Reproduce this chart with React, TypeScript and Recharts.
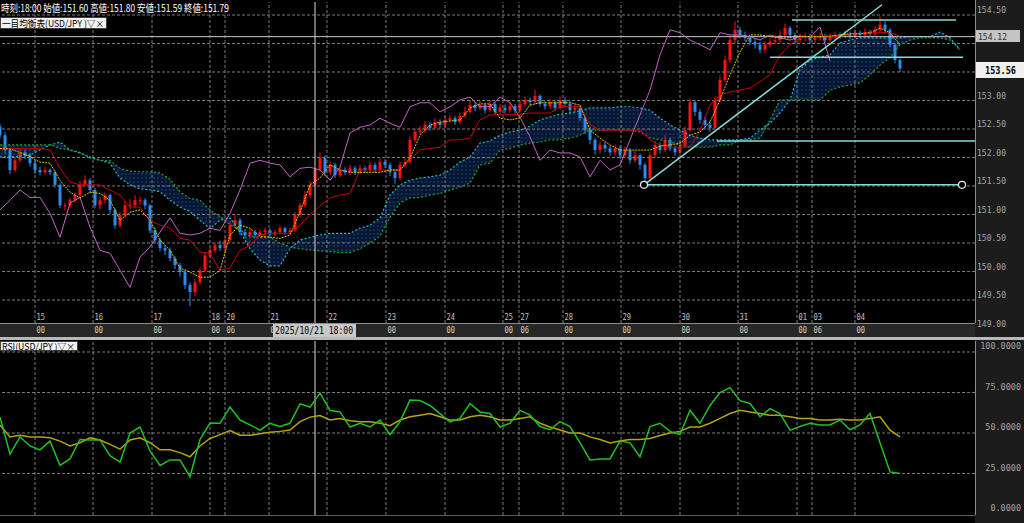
import React from 'react';
import { ComposedChart, XAxis, YAxis, Bar, Line, Area, ReferenceLine, ReferenceDot } from 'recharts';

// ---- price candles (2-hour slots) ----
const FIRST_OPEN = 152.54;
const closes = [
  152.39,152.13,151.78,151.95,152.09,152.04,151.90,151.78,151.74,151.78,
  151.74,151.52,151.16,151.16,151.25,151.34,151.52,151.60,151.43,151.16,
  151.25,151.34,151.08,150.81,150.99,151.16,151.16,151.25,151.25,151.16,
  150.72,150.55,150.41,150.37,150.23,150.11,149.99,149.76,149.64,149.81,
  150.02,150.28,150.37,150.46,150.41,150.55,150.81,150.90,150.69,150.64,
  150.69,150.64,150.69,150.72,150.65,150.69,150.76,150.69,150.72,150.99,
  151.16,151.34,151.52,151.79,151.99,151.74,151.87,151.69,151.78,151.74,
  151.81,151.74,151.81,151.78,151.87,151.78,151.92,151.87,151.74,151.64,
  151.87,151.92,152.31,152.45,152.48,152.57,152.52,152.62,152.57,152.66,
  152.69,152.62,152.73,152.80,152.92,152.87,152.92,152.83,152.94,152.80,
  152.87,152.83,152.90,152.83,152.94,153.01,152.97,153.08,152.94,152.90,
  152.97,152.87,153.01,152.94,152.83,152.87,152.69,152.48,152.31,152.13,
  152.22,152.16,152.09,152.16,152.04,152.13,151.95,152.04,151.87,151.64,
  152.04,152.22,152.13,152.31,152.16,152.09,152.22,152.48,152.97,152.80,
  152.66,152.57,152.52,153.01,153.36,153.71,154.06,154.24,154.15,154.10,
  154.03,153.98,153.89,153.98,154.03,154.06,154.15,154.27,154.15,154.06,
  154.10,154.13,154.06,154.10,154.13,154.06,154.12,154.15,154.13,154.17,
  154.13,154.19,154.15,154.20,154.17,154.24,154.33,154.24,153.98,153.71,
  153.56,
];
const highs = [
  152.59,152.44,152.17,152.01,152.15,152.14,152.08,151.95,151.84,151.83,
  151.81,151.77,151.55,151.21,151.29,151.39,151.59,151.69,151.64,151.47,
  151.31,151.39,151.37,151.11,151.04,151.24,151.27,151.34,151.31,151.29,
  151.19,150.77,150.59,150.47,150.42,150.27,150.15,150.03,149.81,149.87,
  150.07,150.34,150.42,150.51,150.54,150.61,150.87,150.99,150.94,150.75,
  150.75,150.73,150.74,150.77,150.76,150.73,150.81,150.79,150.77,151.04,
  151.21,151.41,151.59,151.80,152.09,152.04,151.93,151.91,151.84,151.83,
  151.87,151.85,151.87,151.85,151.93,151.91,151.99,151.97,151.91,151.79,
  151.93,151.99,152.37,152.51,152.55,152.64,152.62,152.69,152.67,152.73,
  152.75,152.73,152.79,152.89,153.01,152.97,152.99,152.95,153.01,152.97,
  152.94,152.93,152.97,152.94,153.01,153.07,153.05,153.19,153.11,152.99,
  153.03,153.01,153.07,153.05,152.99,152.93,152.91,152.73,152.53,152.35,
  152.29,152.27,152.21,152.23,152.21,152.19,152.17,152.11,152.07,151.91,
  152.09,152.29,152.27,152.39,152.35,152.21,152.29,152.55,153.04,153.01,
  152.85,152.71,152.64,153.07,153.44,153.79,154.14,154.39,154.29,154.21,
  154.14,154.09,154.03,154.04,154.09,154.14,154.23,154.35,154.31,154.19,
  154.17,154.19,154.17,154.16,154.19,154.17,154.18,154.21,154.19,154.23,
  154.21,154.25,154.23,154.26,154.24,154.31,154.47,154.39,154.27,154.01,
  153.75,
];
const lows = [
  152.34,152.07,151.71,151.74,151.91,151.97,151.84,151.71,151.69,151.70,
  151.69,151.47,151.11,151.07,151.12,151.21,151.31,151.49,151.37,151.11,
  151.09,151.19,151.01,150.75,150.77,150.95,151.09,151.12,151.17,151.09,
  150.67,150.49,150.35,150.29,150.17,150.04,149.91,149.69,149.39,149.57,
  149.77,149.99,150.23,150.33,150.36,150.37,150.51,150.77,150.64,150.59,
  150.59,150.59,150.61,150.64,150.61,150.61,150.65,150.64,150.65,150.69,
  150.95,151.11,151.29,151.49,151.75,151.67,151.69,151.64,151.65,151.69,
  151.69,151.69,151.71,151.73,151.74,151.73,151.75,151.81,151.67,151.54,
  151.61,151.83,151.89,152.27,152.39,152.43,152.47,152.49,152.51,152.53,
  152.61,152.57,152.59,152.69,152.77,152.81,152.83,152.77,152.79,152.75,
  152.75,152.77,152.79,152.77,152.79,152.89,152.91,152.93,152.89,152.84,
  152.85,152.81,152.83,152.89,152.77,152.79,152.64,152.41,152.23,152.05,
  152.07,152.09,152.03,152.04,151.97,151.99,151.89,151.91,151.79,151.51,
  151.59,151.99,152.07,152.09,152.11,152.03,152.05,152.19,152.44,152.73,
  152.59,152.49,152.45,152.49,152.97,153.31,153.67,154.01,154.09,154.04,
  153.97,153.91,153.83,153.84,153.93,153.99,154.01,154.11,154.09,153.99,
  154.01,154.04,153.99,154.01,154.05,154.01,154.02,154.07,154.08,154.09,
  154.08,154.09,154.10,154.11,154.12,154.13,154.19,154.17,153.93,153.65,
  153.50,
];

// ---- Ichimoku lines, one sample every LINE_STEP slots ----
const LINE_STEP = 2;
const tenkan = [
  152.16,152.15,152.09,152.01,151.92,151.90,151.60,151.39,151.29,151.39,
  151.37,151.25,150.90,151.04,151.08,150.90,150.55,150.37,150.06,149.99,
  149.90,149.90,150.02,150.64,150.81,150.76,150.62,150.60,150.58,150.64,
  151.04,151.52,151.64,151.87,151.78,151.74,151.74,151.74,151.74,151.78,
  151.78,151.99,152.39,152.57,152.62,152.64,152.66,152.87,152.94,152.94,
  152.69,152.66,152.69,152.92,152.96,152.96,152.96,152.96,152.92,152.48,
  152.34,152.22,152.13,152.13,152.13,152.13,152.20,152.22,152.25,152.39,
  152.45,152.62,153.01,153.45,153.85,154.15,154.15,154.12,154.10,154.10,
  154.13,154.12,154.12,154.13,154.15,154.17,154.17,154.19,154.27,154.19,
  153.98,
];
const kijun = [
  152.16,152.16,152.16,152.16,152.16,152.13,151.81,151.57,151.52,151.52,
  151.52,151.43,151.34,151.13,151.13,150.90,150.81,150.76,150.58,150.55,
  150.34,150.32,150.02,150.06,150.37,150.46,150.64,150.67,150.67,150.67,
  150.81,151.00,151.15,151.29,151.34,151.37,151.78,151.78,151.78,151.78,
  151.78,151.95,152.13,152.16,152.18,152.31,152.31,152.34,152.66,152.75,
  152.75,152.75,152.76,152.78,152.78,152.78,152.89,152.89,152.89,152.57,
  152.48,152.48,152.48,152.48,152.48,152.31,152.22,152.18,152.18,152.18,
  152.48,152.92,153.10,153.15,153.18,153.22,153.33,153.45,153.80,153.98,
  154.10,154.12,154.12,154.12,154.12,154.17,154.17,154.19,154.19,154.19,
  154.13,
];
const chikou = [
  151.08,151.25,151.43,151.30,151.30,151.02,150.60,151.20,151.30,150.78,
  150.37,150.32,150.02,149.72,150.25,150.43,150.69,150.94,150.67,150.64,
  150.67,150.76,150.72,151.02,151.43,151.90,151.95,151.90,151.87,151.66,
  151.81,151.83,151.78,151.60,151.83,152.43,152.53,152.57,152.69,152.60,
  152.53,152.89,152.96,152.96,152.80,152.89,153.01,153.06,152.89,152.89,
  153.06,152.96,152.71,152.36,151.95,152.13,152.08,152.08,152.01,151.66,
  151.95,151.78,151.87,152.31,152.75,153.18,153.80,154.24,154.19,154.06,
  153.98,153.89,154.19,154.15,154.15,154.12,154.06,154.15,154.10,154.06,
  154.12,154.12,154.29,153.69,
];
const spanA = [
  152.01,152.01,152.02,152.04,152.13,152.22,152.27,152.13,152.08,152.01,
  151.95,151.90,151.64,151.52,151.45,151.43,151.40,151.25,151.13,151.05,
  150.90,150.75,150.90,150.94,150.70,150.40,150.20,150.10,150.10,150.40,
  150.55,150.60,150.64,150.67,150.67,150.67,150.76,150.81,150.94,151.34,
  151.52,151.60,151.64,151.66,151.69,151.78,151.92,152.01,152.25,152.29,
  152.39,152.45,152.48,152.55,152.66,152.71,152.76,152.78,152.82,152.87,
  152.87,152.87,152.89,152.89,152.87,152.83,152.69,152.57,152.48,152.39,
  152.34,152.31,152.31,152.31,152.31,152.34,152.48,152.60,152.78,153.01,
  153.54,153.71,153.76,153.80,154.01,154.06,154.10,154.10,154.10,154.10,
  154.10,154.12,154.12,154.12,154.20,154.10,153.89,
];
const spanB = [
  152.22,152.22,152.22,152.22,152.22,152.22,152.16,152.13,152.09,151.99,
  151.95,151.95,151.81,151.76,151.75,151.75,151.73,151.62,151.40,151.28,
  151.25,151.08,150.96,150.82,150.73,150.62,150.60,150.60,150.50,150.43,
  150.40,150.38,150.36,150.35,150.33,150.33,150.40,150.50,150.62,150.95,
  151.20,151.29,151.30,151.34,151.37,151.43,151.48,151.55,151.87,151.90,
  152.13,152.16,152.22,152.25,152.27,152.31,152.31,152.34,152.39,152.48,
  152.48,152.48,152.48,152.48,152.45,152.34,152.31,152.27,152.22,152.18,
  152.18,152.18,152.22,152.22,152.31,152.31,152.34,152.66,153.01,153.01,
  153.01,153.01,153.01,153.18,153.24,153.27,153.31,153.45,153.62,153.75,
  153.98,154.06,154.10,154.10,154.10,154.06,153.89,
];

// ---- RSI and its average ----
const rsi = [
  59.8,37,47.6,42,39.6,45,30,34,46,45.7,
  45.7,36,32,50,53.7,39,30,33.4,33.4,23,
  46,56.1,56,66,58,55,51.8,56,54,56,
  68,66,74.6,64,63,53.7,56,53.7,58,49,
  57,70.3,70,67,62,56.8,59,68.2,63,62,
  53.7,56,64,61,54,52,57,54,44,33.4,
  34,34,45,43.9,35.3,54,56,51,49,64,
  56,67,75,78,70,68.2,60,65,62,51.8,
  54,56,55,55,58,52,55,62,44,26,
  25,
];
const rsiMa = [
  54.9,47.6,48.6,47.6,47.6,47,45,42,44,47,
  45.7,43,40,45.7,47,44,39.6,39.6,37.9,35.3,
  42,46.6,49,51.5,48.6,48.6,49.5,50.5,51,51.8,
  57,59.8,60.8,58,59,57.5,57,57,56,54.5,
  58,60,61,62,60,58,58,60,61,60,
  58,58,59,60,56,53.7,51.8,50,50,47.6,
  46,43.9,45,46,46,46.6,48.5,50,51,53.7,
  53.7,56,59,62,64,63,62,61,61,60,
  59,59,58,58,58.5,58,58,59,60,51.8,
  47.6,
];

// ---- axes ----
const dayTicks = [7, 18.6, 30.4, 42, 45, 53.8, 65.4, 77.2, 89, 100.6, 103.8, 112.6, 124.2, 136, 147.6, 159.4, 162.4, 171];
const dayLabels = ['15','16','17','18','20','21','22','23','24','25','27','28','29','30','31','01','03','04'];
const hourLabels = ['00','00','00','00','06','00','','00','00','00','06','00','00','00','00','00','06','00'];
const priceTicks = [149, 149.5, 150, 150.5, 151, 151.5, 152, 152.5, 153, 153.5, 154, 154.5];
const coveredPriceLabels = [153.5, 154];
const rsiTicks = [0, 25, 50, 75, 100];
const rsiGrid = [25, 50, 75, 100];
const CROSSHAIR_T = 63;
const LAST_LINE = 154.12;
const CURRENT_PRICE = 153.56;

// ---- drawing objects (data coordinates) ----
const hLines = [
  { x1: 158.4, x2: 191.2, y: 154.41 },
  { x1: 154, x2: 192.6, y: 153.76 },
  { x1: 143.4, x2: 195, y: 152.29 },
  { x1: 128.8, x2: 192.4, y: 151.52 },
];
const trendLine = [{ x: 128.8, y: 151.52 }, { x: 176.4, y: 154.68 }];
const anchorDots = [{ x: 128.8, y: 151.52 }, { x: 192.4, y: 151.52 }];

const candleRows = closes.map((close, i) => ({
  i,
  open: i === 0 ? FIRST_OPEN : closes[i - 1],
  close,
  high: highs[i],
  low: lows[i],
  range: [lows[i], highs[i]],
}));
const cloudRows = spanA.map((a, k) => ({
  i: k * LINE_STEP,
  a,
  b: spanB[k],
  cloud: [Math.min(a, spanB[k]), Math.max(a, spanB[k])],
}));
const toRows = (arr: number[]) => arr.map((v, k) => ({ i: k * LINE_STEP, v }));
const tenkanRows = toRows(tenkan);
const kijunRows = toRows(kijun);
const chikouRows = toRows(chikou);
const rsiRows = rsi.map((v, k) => ({ i: k * LINE_STEP, rsi: v, ma: rsiMa[k] }));

const MONO = '"DejaVu Sans Mono", monospace';
const JP = '"Noto Sans CJK JP", "DejaVu Sans", sans-serif';
const GRID = '#7c7c7c';

const Candle = (props: any) => {
  const { x, y, width, height, payload } = props;
  if (x == null || y == null || !payload) return <g />;
  const top = Math.min(y, y + height);
  const h = Math.abs(height);
  const span = payload.high - payload.low;
  const k = span > 0 ? h / span : 0;
  const up = payload.close >= payload.open;
  const color = up ? '#ff1010' : '#2c8cf0';
  const bTop = top + (payload.high - Math.max(payload.open, payload.close)) * k;
  const bBot = top + (payload.high - Math.min(payload.open, payload.close)) * k;
  const cx = x + width / 2;
  return (
    <g>
      <line x1={cx} x2={cx} y1={top} y2={top + h} stroke={color} strokeWidth={1} />
      <rect x={x} y={bTop} width={width} height={Math.max(1, bBot - bTop)} fill={color} />
    </g>
  );
};

const renderDayTick = (p: any) => {
  const idx = dayTicks.findIndex((t) => Math.abs(t - p.payload.value) < 1e-6);
  if (idx < 0) return <g />;
  return (
    <g>
      <text x={p.x + 1.5} y={p.y - 3} fill="#c4c4c4" fontSize={9} fontFamily={MONO} textLength={8.5} lengthAdjust="spacingAndGlyphs">{dayLabels[idx]}</text>
      {hourLabels[idx] ? (
        <text x={p.x + 1.5} y={p.y + 10} fill="#d2d2b2" fontSize={9} fontFamily={MONO} textLength={8.5} lengthAdjust="spacingAndGlyphs">{hourLabels[idx]}</text>
      ) : null}
    </g>
  );
};

const renderPriceTick = (p: any) => {
  const v = Number(p.payload.value);
  if (coveredPriceLabels.some((c) => Math.abs(c - v) < 1e-6)) return <g />;
  return (
    <text x={977} y={p.y - 1.5} fill="#a6a6a6" fontSize={9.5} fontFamily={MONO} textLength={29} lengthAdjust="spacingAndGlyphs">
      {v.toFixed(2)}
    </text>
  );
};

const renderRsiTick = (p: any) => {
  const s = Number(p.payload.value).toFixed(4);
  const w = s.length * 5.1;
  return (
    <text x={1021 - w} y={p.y - 2.5} fill="#a6a6a6" fontSize={9} fontFamily={MONO} textLength={w} lengthAdjust="spacingAndGlyphs">
      {s}
    </text>
  );
};

export default function App() {
  return (
    <div style={{ position: 'fixed', left: 0, top: 0, width: 1024, height: 523, background: '#000', overflow: 'hidden' }}>
      <div style={{ position: 'absolute', left: 975, top: 0, width: 49, height: 338, background: '#1c1c1c' }} />
      <div style={{ position: 'absolute', left: 0, top: 323, width: 975, height: 15, background: '#272727' }} />
      <div style={{ position: 'absolute', left: 0, top: 337, width: 1024, height: 3, background: '#b8b8b8' }} />
      <div style={{ position: 'absolute', left: 975, top: 340, width: 49, height: 183, background: '#1c1c1c' }} />

      <div style={{ position: 'absolute', left: 0, top: 0 }}>
        <ComposedChart width={1024} height={338} data={candleRows} margin={{ top: 2, right: 0, bottom: 0, left: 0 }}>
          <defs>
            <pattern id="kumoDots" width="4" height="4" patternUnits="userSpaceOnUse">
              <rect width="4" height="4" fill="#071633" />
              <rect x="1.5" y="1.5" width="1" height="1" fill="#2f78b8" />
            </pattern>
          </defs>
          <XAxis type="number" dataKey="i" domain={[0, 195]} allowDataOverflow ticks={dayTicks} interval={0}
            tick={renderDayTick} tickLine={false} axisLine={false} tickSize={0} tickMargin={0} height={15} />
          <YAxis orientation="right" domain={[149.096, 154.728]} allowDataOverflow ticks={priceTicks} interval={0}
            tick={renderPriceTick} tickLine={false} axisLine={false} tickSize={0} tickMargin={0} width={49} />
          {priceTicks.map((p) => (
            <ReferenceLine key={'hp' + p} y={p} stroke={GRID} strokeDasharray="3 2" />
          ))}
          {dayTicks.map((t) => (
            <ReferenceLine key={'vg' + t} x={t} stroke={GRID} strokeDasharray="3 2" />
          ))}
          <Area data={cloudRows} dataKey="cloud" type="linear" stroke="none" fill="url(#kumoDots)" fillOpacity={1} isAnimationActive={false} />
          <Line data={cloudRows} dataKey="a" type="linear" stroke="#22b8c8" strokeWidth={1.2} strokeDasharray="2 2" dot={false} isAnimationActive={false} />
          <Line data={cloudRows} dataKey="b" type="linear" stroke="#1ca41c" strokeWidth={1.2} strokeDasharray="2 2" dot={false} isAnimationActive={false} />
          <ReferenceLine y={LAST_LINE} stroke="#c8c8c8" strokeWidth={1} />
          <Line data={chikouRows} dataKey="v" type="linear" stroke="#c462c8" strokeWidth={1} dot={false} isAnimationActive={false} />
          <Line data={kijunRows} dataKey="v" type="linear" stroke="#c80000" strokeWidth={1} dot={false} isAnimationActive={false} />
          <Bar dataKey="range" barSize={3} shape={<Candle />} isAnimationActive={false} />
          <Line data={tenkanRows} dataKey="v" type="linear" stroke="#d8c800" strokeWidth={1} strokeDasharray="2 1" dot={false} isAnimationActive={false} />
          {hLines.map((l, n) => (
            <ReferenceLine key={'dl' + n} segment={[{ x: l.x1, y: l.y }, { x: l.x2, y: l.y }]} stroke="#86dcdc" strokeWidth={1.5} ifOverflow="visible" />
          ))}
          <ReferenceLine segment={trendLine} stroke="#86dcdc" strokeWidth={1.5} ifOverflow="visible" />
          {anchorDots.map((d, n) => (
            <ReferenceDot key={'ad' + n} x={d.x} y={d.y} r={3.5} fill="#000" stroke="#e8e8e8" strokeWidth={1.2} ifOverflow="visible" />
          ))}
          <ReferenceLine x={CROSSHAIR_T} stroke="#d8d8d8" strokeWidth={1} />
        </ComposedChart>
      </div>

      <div style={{ position: 'absolute', left: 0, top: 334 }}>
        <ComposedChart width={1024} height={189} data={rsiRows} margin={{ top: 7, right: 0, bottom: 8, left: 0 }}>
          <XAxis type="number" dataKey="i" domain={[0, 195]} allowDataOverflow hide />
          <YAxis orientation="right" domain={[-0.62, 106.79]} allowDataOverflow ticks={rsiTicks} interval={0}
            tick={renderRsiTick} tickLine={false} axisLine={false} tickSize={0} tickMargin={0} width={49} />
          {rsiGrid.map((v) => (
            <ReferenceLine key={'rg' + v} y={v} stroke={GRID} strokeDasharray="3 2" />
          ))}
          {dayTicks.map((t) => (
            <ReferenceLine key={'rv' + t} x={t} stroke={GRID} strokeDasharray="3 2" />
          ))}
          <ReferenceLine x={CROSSHAIR_T} stroke="#d8d8d8" strokeWidth={1} />
          <Line dataKey="ma" type="linear" stroke="#b4a410" strokeWidth={1.5} dot={false} isAnimationActive={false} />
          <Line dataKey="rsi" type="linear" stroke="#22c022" strokeWidth={1.5} dot={false} isAnimationActive={false} />
        </ComposedChart>
      </div>

      <svg width={1024} height={523} style={{ position: 'absolute', left: 0, top: 0, pointerEvents: 'none' }}>
        <line x1={975.5} x2={975.5} y1={0} y2={323} stroke="#8c8c8c" />
        <line x1={0} x2={975} y1={323.5} y2={323.5} stroke="#8c8c8c" />
        <line x1={975.5} x2={975.5} y1={341} y2={515} stroke="#8c8c8c" />
        <line x1={0} x2={975} y1={515.5} y2={515.5} stroke="#5c5c5c" />
        <text x={1} y={12} fill="#ffffff" fontSize={10} fontFamily={JP} textLength={228} lengthAdjust="spacingAndGlyphs">
          時刻:18:00 始値:151.60 高値:151.80 安値:151.59 終値:151.79
        </text>
        <rect x={0.5} y={17.5} width={106} height={11} fill="#f2f2f2" stroke="#404040" />
        <text x={2} y={26.5} fill="#000" fontSize={9.5} fontFamily={JP} textLength={102} lengthAdjust="spacingAndGlyphs">
          一目均衡表(USD/JPY )▽×
        </text>
        <rect x={0.5} y={341.5} width={77} height={9} fill="#f2f2f2" stroke="#404040" />
        <text x={2} y={349.5} fill="#000" fontSize={9} fontFamily={JP} textLength={73} lengthAdjust="spacingAndGlyphs">
          RSI(USD/JPY )▽×
        </text>
        <rect x={273} y={324} width={83} height={13} fill="#c8c8c8" />
        <text x={275} y={334} fill="#000" fontSize={10} fontFamily={MONO} textLength={78} lengthAdjust="spacingAndGlyphs">
          2025/10/21 18:00
        </text>
        <rect x={976} y={30} width={44} height={12} fill="#c4c4c4" />
        <text x={978} y={39.5} fill="#303030" fontSize={9.5} fontFamily={MONO} textLength={29} lengthAdjust="spacingAndGlyphs">
          {LAST_LINE.toFixed(2)}
        </text>
        <rect x={976} y={62} width={48} height={16} fill="#f0f0f0" />
        <text x={985} y={74} fill="#000" fontSize={10} fontWeight="bold" fontFamily={MONO} textLength={31} lengthAdjust="spacingAndGlyphs">
          {CURRENT_PRICE.toFixed(2)}
        </text>
      </svg>
    </div>
  );
}
